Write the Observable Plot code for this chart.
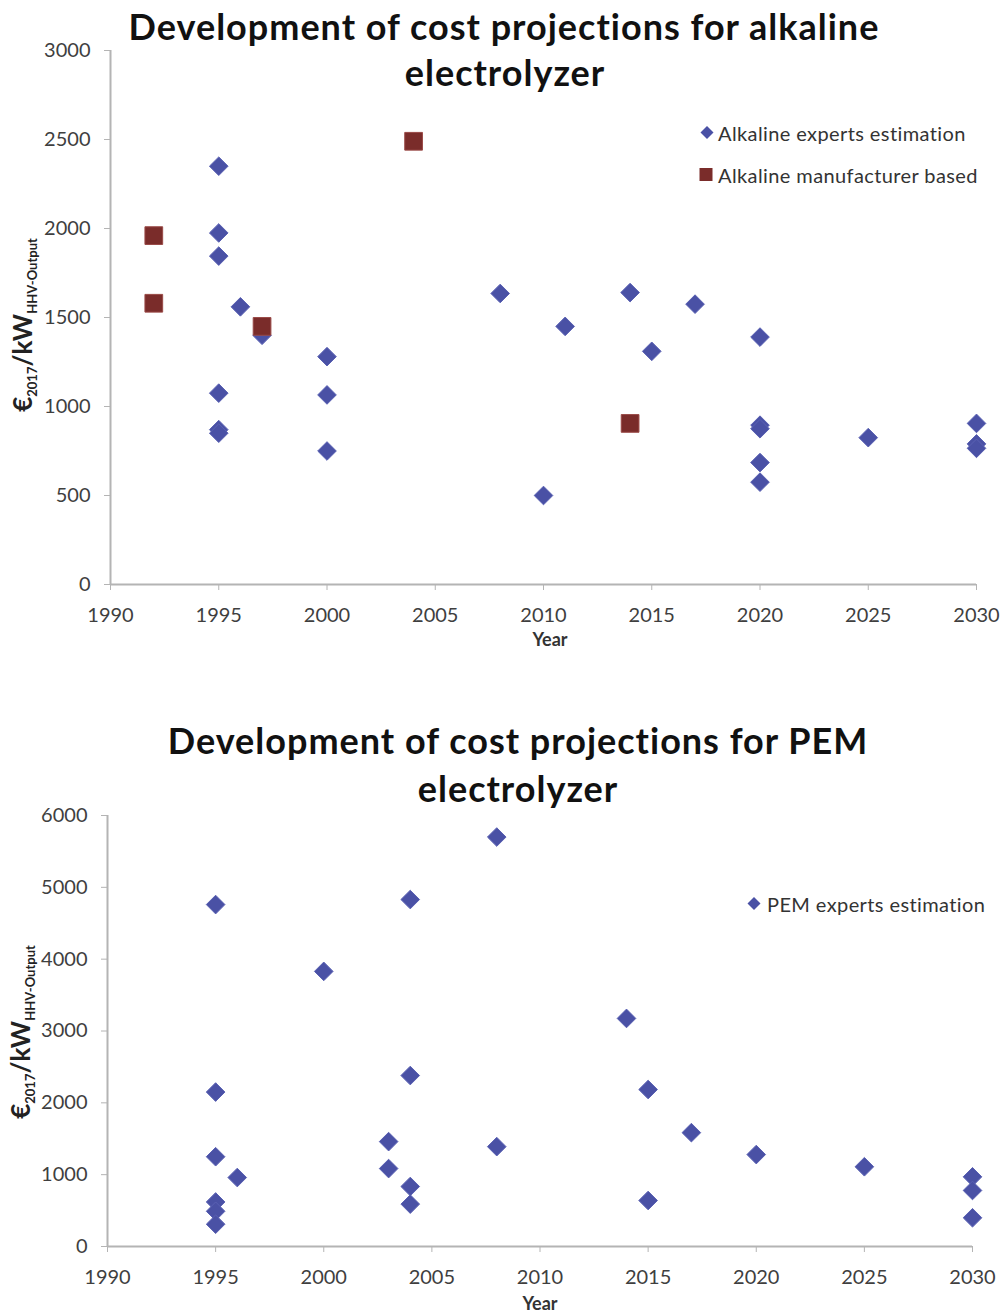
<!DOCTYPE html>
<html>
<head>
<meta charset="utf-8">
<script src="https://cdn.jsdelivr.net/npm/d3@7"></script>
<script src="https://cdn.jsdelivr.net/npm/@observablehq/plot@0.6"></script>
<style>
  html, body { margin: 0; padding: 0; background: #fff; }
  #page { position: relative; width: 1003px; height: 1313px; font-family: Lato, "DejaVu Sans", sans-serif; overflow: hidden; }
  .abs { position: absolute; }
  .title { font-weight: 700; font-size: 36px; letter-spacing: 1px; color: #111; white-space: nowrap; transform: translate(-50%, -50%); text-align: center; line-height: 1; }
  .ylab { font-weight: 700; font-size: 26px; color: #222; white-space: nowrap; transform: translate(-50%, -50%) rotate(-90deg); }
  .ylab sub { font-size: 13px; vertical-align: -5px; }
  .xlab { font-weight: 700; font-size: 18px; color: #333; transform: translate(-50%, -50%); }
  .leg { font-size: 20px; letter-spacing: 0.4px; color: #333; white-space: nowrap; transform: translateY(-50%); }
  .sym { position: absolute; transform: translate(-50%, -50%); }
</style>
</head>
<body>
<div id="page"></div>
<script>
// ---------- data ----------
const alkExpYear = [1995,1995,1995,1995,1995,1995,1996,1997,2000,2000,2000,2008,2010,2011,2014,2015,2017,2020,2020,2020,2020,2020,2025,2030,2030,2030];
const alkExpCost = [2350,1975,1845,1075,870,850,1560,1400,1280,1065,750,1635,500,1450,1640,1310,1575,1390,895,875,685,575,825,905,790,765];

const alkManYear = [1992,1992,1997,2004,2014];
const alkManCost = [1960,1580,1450,2490,905];

const pemYear = [1995,1995,1995,1995,1995,1995,1996,2000,2003,2003,2004,2004,2004,2004,2008,2008,2014,2015,2015,2017,2020,2025,2030,2030,2030];
const pemCost = [4760,2150,1250,620,490,310,960,3830,1460,1085,4830,2380,835,590,5700,1390,3175,2185,640,1585,1280,1110,970,780,400];

const xTicks = [1990,1995,2000,2005,2010,2015,2020,2025,2030];
const yTicksAlk = [0,500,1000,1500,2000,2500,3000];
const yTicksPem = [0,1000,2000,3000,4000,5000,6000];

const titleAlk = ["Development of cost projections for alkaline", "electrolyzer"];
const titlePem = ["Development of cost projections for PEM", "electrolyzer"];
const legendAlk = ["Alkaline experts estimation", "Alkaline manufacturer based"];
const legendPem = ["PEM experts estimation"];

// ---------- styles ----------
const blue = "#4a51a5";
const maroon = "#7a2c2a";
const axisGray = "#b4b4b4";
const tickText = "#3f3f3f";

const page = document.getElementById("page");

function rows(xs, ys) { return xs.map((x, i) => ({year: x, cost: ys[i]})); }

function makeChart({top, height, margins, yDomain, yTicks, series}) {
  const marks = [
    Plot.ruleX([xTicks[0]], {stroke: axisGray, strokeWidth: 2}),
    Plot.ruleY([yDomain[0]], {stroke: axisGray, strokeWidth: 2}),
    Plot.axisX({ticks: xTicks, tickFormat: "d", tickSize: 6, tickPadding: 17, stroke: axisGray, fill: tickText, label: null, fontSize: 20}),
    Plot.axisY({ticks: yTicks, tickFormat: "d", tickSize: 6, tickPadding: 14, stroke: axisGray, fill: tickText, label: null, fontSize: 20})
  ];
  for (const s of series) {
    marks.push(Plot.dot(s.data, {x: "year", y: "cost", symbol: s.symbol, r: s.r, fill: s.fill, stroke: s.stroke, strokeWidth: 1}));
  }
  const svg = Plot.plot({
    width: 1003,
    height,
    marginTop: margins[0], marginRight: margins[1], marginBottom: margins[2], marginLeft: margins[3],
    x: {domain: [xTicks[0], xTicks[xTicks.length - 1]]},
    y: {domain: yDomain},
    style: {fontFamily: "Lato, sans-serif", fontSize: "20px", background: "transparent", overflow: "visible"},
    marks
  });
  svg.style.position = "absolute";
  svg.style.left = "0px";
  svg.style.top = top + "px";
  page.appendChild(svg);
}

function addDiv(cls, html, left, top) {
  const d = document.createElement("div");
  d.className = "abs " + cls;
  d.innerHTML = html;
  d.style.left = left + "px";
  d.style.top = top + "px";
  page.appendChild(d);
  return d;
}

function legendSymbol(kind, cx, cy) {
  const d = document.createElement("div");
  d.className = "sym";
  d.style.left = cx + "px";
  d.style.top = cy + "px";
  if (kind === "diamond") {
    d.innerHTML = `<svg width="14" height="14" viewBox="-7 -7 14 14"><path d="M0,-6.5L6.5,0L0,6.5L-6.5,0Z" fill="${blue}"/></svg>`;
  } else {
    d.innerHTML = `<svg width="14" height="14" viewBox="-7 -7 14 14"><rect x="-6.5" y="-6.5" width="13" height="13" fill="${maroon}"/></svg>`;
  }
  page.appendChild(d);
}

// ---------- chart 1: alkaline ----------
makeChart({
  top: 0, height: 650, margins: [50, 27, 66, 110],
  yDomain: [0, 3000], yTicks: yTicksAlk,
  series: [
    {data: rows(alkExpYear, alkExpCost), symbol: "diamond2", r: 8.4, fill: blue, stroke: "#5a61b3"},
    {data: rows(alkManYear, alkManCost), symbol: "square", r: 10, fill: maroon, stroke: "#9a4a47"}
  ]
});
addDiv("title", titleAlk[0], 504, 26);
addDiv("title", titleAlk[1], 505, 72);
addDiv("ylab", "€<sub>2017</sub>/kW<sub>HHV-Output</sub>", 23, 325);
addDiv("xlab", "Year", 550, 639);
legendSymbol("diamond", 707, 133);
addDiv("leg", legendAlk[0], 718, 133);
legendSymbol("square", 706, 175);
addDiv("leg", legendAlk[1], 718, 175);

// ---------- chart 2: PEM ----------
makeChart({
  top: 660, height: 653, margins: [155, 31, 67, 107],
  yDomain: [0, 6000], yTicks: yTicksPem,
  series: [
    {data: rows(pemYear, pemCost), symbol: "diamond2", r: 8.4, fill: blue, stroke: "#5a61b3"}
  ]
});
addDiv("title", titlePem[0], 518, 740);
addDiv("title", titlePem[1], 518, 788);
addDiv("ylab", "€<sub>2017</sub>/kW<sub>HHV-Output</sub>", 21, 1032);
addDiv("xlab", "Year", 540, 1303);
legendSymbol("diamond", 754, 904);
addDiv("leg", legendPem[0], 767, 904);
</script>
</body>
</html>
